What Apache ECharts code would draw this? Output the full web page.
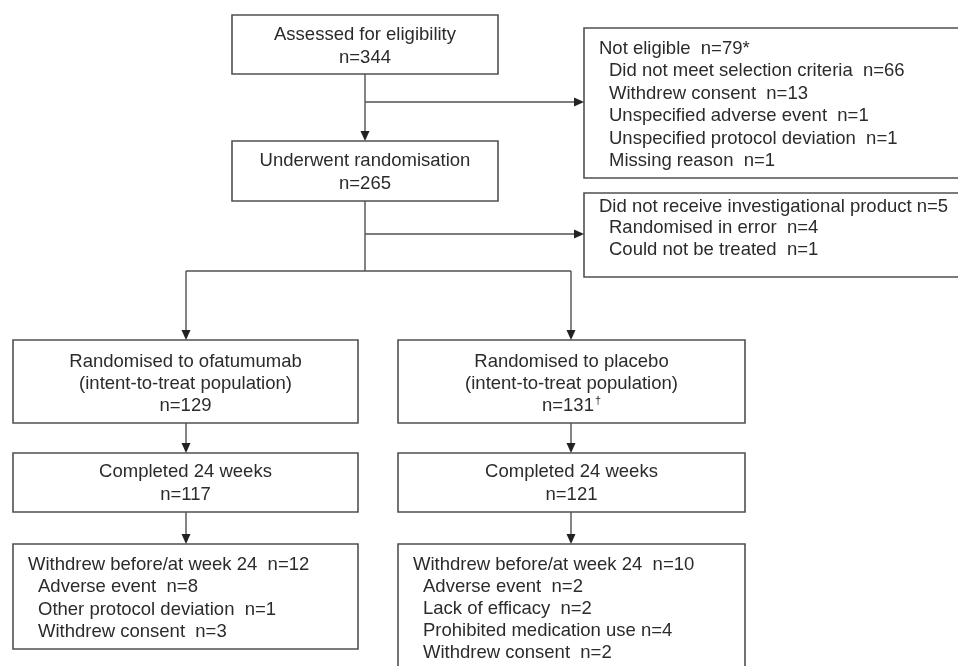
<!DOCTYPE html>
<html>
<head>
<meta charset="utf-8">
<script src="https://cdn.jsdelivr.net/npm/echarts@6/dist/echarts.min.js"></script>
<style>
html,body{margin:0;padding:0;background:#fff;}
#chart{width:958px;height:666px;}
</style>
</head>
<body>
<div id="chart"></div>
<script>
// ---------- DATA ----------
const assessedLabel = 'Assessed for eligibility';
const assessedN = 344;
const notEligibleTitle = 'Not eligible';
const notEligibleN = '79*';
const notEligibleReasons = ['Did not meet selection criteria', 'Withdrew consent', 'Unspecified adverse event', 'Unspecified protocol deviation', 'Missing reason'];
const notEligibleCounts = [66, 13, 1, 1, 1];
const randomisedLabel = 'Underwent randomisation';
const randomisedN = 265;
const notTreatedTitle = 'Did not receive investigational product';
const notTreatedN = 5;
const notTreatedReasons = ['Randomised in error', 'Could not be treated'];
const notTreatedCounts = [4, 1];
const armNames = ['Randomised to ofatumumab', 'Randomised to placebo'];
const armITT = ['129', '131{sup|†}'];
const armCompleted = [117, 121];
const armWithdrawn = [12, 10];
const withdrawReasonsOfa = ['Adverse event', 'Other protocol deviation', 'Withdrew consent'];
const withdrawCountsOfa = [8, 1, 3];
const withdrawReasonsPbo = ['Adverse event', 'Lack of efficacy', 'Prohibited medication use', 'Withdrew consent'];
const withdrawCountsPbo = [2, 2, 4, 2];
const withdrawSepPbo = ['  ', '  ', ' ', '  '];

// ---------- LAYOUT (diagram coordinates, px-like units) ----------
const layout = {
  assessed:    {rect: [232, 15, 498, 74],  first: 20, gap: 23, align: 'center'},
  randomised:  {rect: [232, 141, 498, 201], first: 20, gap: 23, align: 'center'},
  notEligible: {rect: [584, 28, 980, 178], first: 21, gap: 22.4, align: 'left'},
  notTreated:  {rect: [584, 193, 980, 277], first: 13.5, gap: 21.7, align: 'left'},
  itt:         [{rect: [13, 340, 358, 423], first: 22, gap: 22, align: 'center'},
                {rect: [398, 340, 745, 423], first: 22, gap: 22, align: 'center'}],
  completed:   [{rect: [13, 453, 358, 512], first: 19, gap: 23, align: 'center'},
                {rect: [398, 453, 745, 512], first: 19, gap: 23, align: 'center'}],
  withdrew:    [{rect: [13, 544, 358, 649], first: 21, gap: 22.3, align: 'left'},
                {rect: [398, 544, 745, 700], first: 21, gap: 22.1, align: 'left'}]
};
const connectors = [
  [365, 74, 365, 141, 1],
  [365, 102, 584, 102, 1],
  [365, 201, 365, 271, 0],
  [365, 234, 584, 234, 1],
  [186, 271, 571, 271, 0],
  [186, 271, 186, 340, 1],
  [571, 271, 571, 340, 1],
  [186, 423, 186, 453, 1],
  [571, 423, 571, 453, 1],
  [186, 512, 186, 544, 1],
  [571, 512, 571, 544, 1]
];

// ---------- BUILD BOXES ----------
function listLines(title, titleN, sep, reasons, counts, seps) {
  const out = [{t: title + sep + 'n=' + titleN, indent: 0}];
  reasons.forEach((r, i) => out.push({t: r + (seps ? seps[i] : '  ') + 'n=' + counts[i], indent: 1}));
  return out;
}
const boxes = [
  Object.assign({lines: [{t: assessedLabel}, {t: 'n=' + assessedN}]}, layout.assessed),
  Object.assign({lines: listLines(notEligibleTitle, notEligibleN, '  ', notEligibleReasons, notEligibleCounts)}, layout.notEligible),
  Object.assign({lines: [{t: randomisedLabel}, {t: 'n=' + randomisedN}]}, layout.randomised),
  Object.assign({lines: listLines(notTreatedTitle, notTreatedN, ' ', notTreatedReasons, notTreatedCounts)}, layout.notTreated)
];
armNames.forEach((name, a) => {
  boxes.push(Object.assign({lines: [{t: name}, {t: '(intent-to-treat population)'}, {t: 'n=' + armITT[a]}]}, layout.itt[a]));
  boxes.push(Object.assign({lines: [{t: 'Completed 24 weeks'}, {t: 'n=' + armCompleted[a]}]}, layout.completed[a]));
});
boxes.push(Object.assign({lines: listLines('Withdrew before/at week 24', armWithdrawn[0], '  ', withdrawReasonsOfa, withdrawCountsOfa)}, layout.withdrew[0]));
boxes.push(Object.assign({lines: listLines('Withdrew before/at week 24', armWithdrawn[1], '  ', withdrawReasonsPbo, withdrawCountsPbo, withdrawSepPbo)}, layout.withdrew[1]));

const LINE = '#505050';
const TEXT = '#2b2b2b';
const FONT = '"Liberation Sans", Arial, Helvetica, sans-serif';
const FS = 18.5;

const chart = echarts.init(document.getElementById('chart'), null, {renderer: 'canvas'});
chart.setOption({
  backgroundColor: '#ffffff',
  animation: false,
  grid: {left: 0, right: 0, top: 0, bottom: 0},
  xAxis: {type: 'value', min: 0, max: 958, show: false},
  yAxis: {type: 'value', min: 0, max: 666, inverse: true, show: false},
  series: [
    {
      type: 'custom',
      coordinateSystem: 'cartesian2d',
      clip: false,
      data: boxes.map((b, i) => [b.rect[0], b.rect[1], b.rect[2], b.rect[3], i]),
      renderItem: function (params, api) {
        const b = boxes[api.value(4)];
        const p0 = api.coord([api.value(0), api.value(1)]);
        const p1 = api.coord([api.value(2), api.value(3)]);
        const children = [{
          type: 'rect',
          shape: {x: p0[0], y: p0[1], width: p1[0] - p0[0], height: p1[1] - p0[1]},
          style: {fill: '#fff', stroke: LINE, lineWidth: 1.6}
        }];
        b.lines.forEach((ln, k) => {
          const yy = api.coord([0, b.rect[1] + b.first + k * b.gap])[1];
          let xx;
          if (b.align === 'center') xx = (p0[0] + p1[0]) / 2;
          else xx = api.coord([b.rect[0] + 15 + (ln.indent ? 10 : 0), 0])[0];
          children.push({
            type: 'text',
            x: xx, y: yy,
            style: {
              text: ln.t,
              fill: TEXT,
              font: FS + 'px ' + FONT,
              fontSize: FS,
              fontFamily: FONT,
              align: b.align === 'center' ? 'center' : 'left',
              verticalAlign: 'middle',
              rich: {sup: {fontSize: 11, fontFamily: FONT, fill: TEXT, verticalAlign: 'top', lineHeight: 22, padding: [0, 0, 0, 1]}}
            }
          });
        });
        return {type: 'group', children: children};
      }
    },
    {
      type: 'custom',
      coordinateSystem: 'cartesian2d',
      clip: false,
      data: connectors,
      renderItem: function (params, api) {
        const a = api.coord([api.value(0), api.value(1)]);
        const c = api.coord([api.value(2), api.value(3)]);
        const arrow = api.value(4);
        const children = [];
        const dx = c[0] - a[0], dy = c[1] - a[1];
        const len = Math.sqrt(dx * dx + dy * dy);
        const ux = dx / len, uy = dy / len;
        const L = 10, W = 4.5;
        const end = arrow ? [c[0] - ux * L, c[1] - uy * L] : c;
        children.push({
          type: 'line',
          shape: {x1: a[0], y1: a[1], x2: end[0], y2: end[1]},
          style: {stroke: LINE, lineWidth: 1.4}
        });
        if (arrow) {
          children.push({
            type: 'polygon',
            shape: {points: [[c[0], c[1]], [end[0] - uy * W, end[1] + ux * W], [end[0] + uy * W, end[1] - ux * W]]},
            style: {fill: '#222'}
          });
        }
        return {type: 'group', children: children};
      }
    }
  ]
});
</script>
</body>
</html>
